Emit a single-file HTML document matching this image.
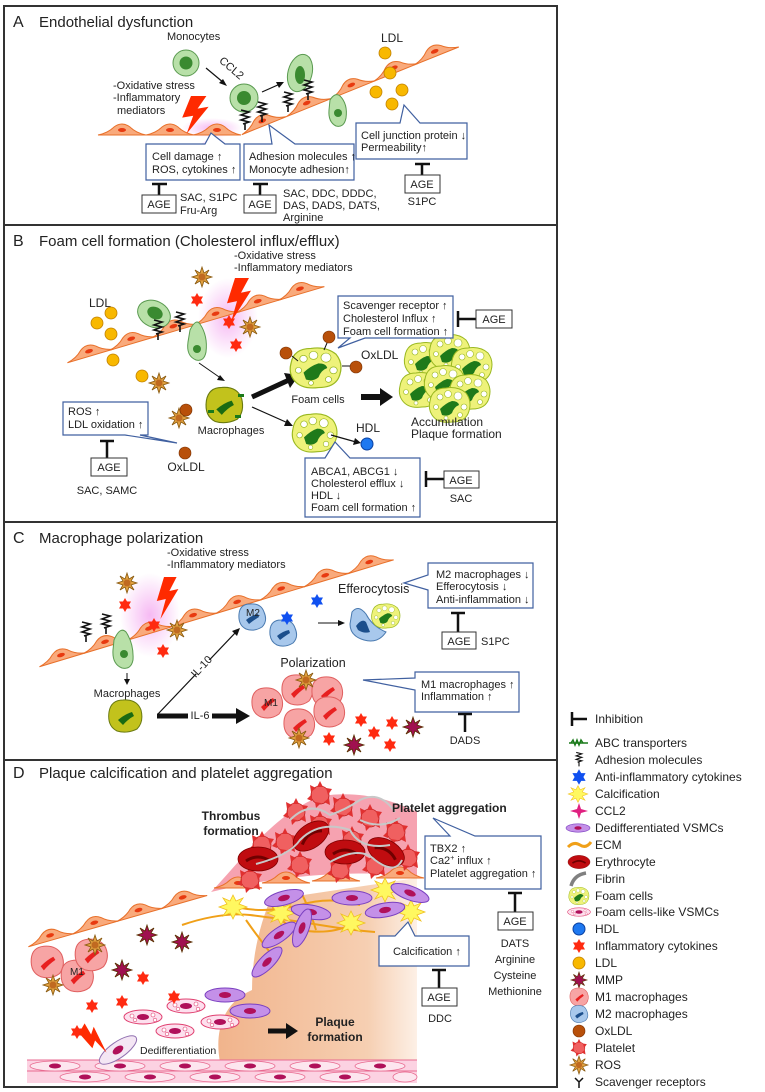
<!DOCTYPE html>
<html><head><meta charset="utf-8"><style>
html,body{margin:0;padding:0;background:#fff}
svg{display:block}
text{font-family:"Liberation Sans",Arial,sans-serif;fill:#222}
.t{font-size:15px}
.s{font-size:11px}
.l{font-size:12px}
.b{font-weight:bold;font-size:12px}
</style></head><body>
<svg width="765" height="1092" viewBox="0 0 765 1092" xmlns="http://www.w3.org/2000/svg">
<defs>
<g id="endo"><path d="M-24,5 Q-14,3 -8,-3 Q0,-9 8,-3 Q14,3 24,5 Z" fill="#f9aa7c" stroke="#e8702a" stroke-width="1"/><ellipse cx="0" cy="0" rx="4" ry="2" fill="#e83a10"/></g>
<g id="ros"><polygon points="0,-10 2,-4 7,-7 4,-2 10,0 4,2 7,7 2,4 0,10 -2,4 -7,7 -4,2 -10,0 -4,-2 -7,-7 -2,-4" fill="#e0a040" stroke="#8a5a10" stroke-width="0.8"/><circle r="3.5" fill="#c06a20"/></g>
<g id="mmp"><polygon points="0,-10 2,-4 7,-7 4,-2 10,0 4,2 7,7 2,4 0,10 -2,4 -7,7 -4,2 -10,0 -4,-2 -7,-7 -2,-4" fill="#a01050" stroke="#5a3000" stroke-width="0.8"/></g>
<polygon id="rstar" points="0,-7 2,-3.5 6,-3.5 4,0 6,3.5 2,3.5 0,7 -2,3.5 -6,3.5 -4,0 -6,-3.5 -2,-3.5" fill="#ff2a10"/>
<polygon id="bstar" points="0,-7 2,-3.5 6,-3.5 4,0 6,3.5 2,3.5 0,7 -2,3.5 -6,3.5 -4,0 -6,-3.5 -2,-3.5" fill="#1050f0"/>
<circle id="ldl" r="6" fill="#f8b800" stroke="#c08000" stroke-width="0.8"/>
<circle id="ox" r="6" fill="#b8500a" stroke="#7a3000" stroke-width="0.6"/>
<polygon id="bolt" points="10,0 24,0 16,14 26,12 6,42 12,22 2,24" fill="#ff2a00"/>
<path id="adh" d="M-4,-8 L4,-6 L-4,-3 L4,-1 L-4,2 L4,4 L-2,6 M0,6 V12" fill="none" stroke="#111" stroke-width="1.6"/>
<g id="foam"><path d="M-20,-4 Q-18,-17 -4,-17 Q8,-19 16,-12 Q22,-4 19,6 Q16,17 2,17 Q-12,19 -18,10 Q-22,4 -20,-4Z" fill="#eef27a" stroke="#9ab820" stroke-width="1"/><path d="M-10,4 Q-4,-2 2,-4 Q8,-4 9,0 Q4,2 2,8 Q-2,12 -8,10Z" fill="#1f7a1a"/><circle cx="-10" cy="-8" r="3" fill="#fff" stroke="#9ab820" stroke-width=".6"/><circle cx="-2" cy="-11" r="3.5" fill="#fff" stroke="#9ab820" stroke-width=".6"/><circle cx="8" cy="-9" r="4" fill="#fff" stroke="#9ab820" stroke-width=".6"/><circle cx="14" cy="2" r="3" fill="#fff" stroke="#9ab820" stroke-width=".6"/><circle cx="-14" cy="2" r="2.5" fill="#fff" stroke="#9ab820" stroke-width=".6"/><circle cx="10" cy="10" r="2.5" fill="#fff" stroke="#9ab820" stroke-width=".6"/><circle cx="-4" cy="13" r="2" fill="#fff" stroke="#9ab820" stroke-width=".6"/></g>
<g id="m1"><path d="M-15,-3 Q-14,-14 -3,-15 Q9,-16 14,-7 Q18,3 12,11 Q4,17 -6,14 Q-16,10 -15,-3Z" fill="#f7a4a4" stroke="#e06060" stroke-width="1"/><path d="M-6,4 Q0,-2 6,-5 L8,-2 Q2,2 -3,8Z" fill="#e82020"/></g>
<g id="m2"><path d="M-13,-3 Q-12,-13 -2,-13 Q9,-14 12,-5 Q16,4 10,10 Q2,15 -6,12 Q-14,8 -13,-3Z" fill="#a8c8ec" stroke="#4a7ab0" stroke-width="1"/><path d="M-6,3 Q0,-2 6,-3 L7,0 Q2,3 -3,7Z" fill="#1c4f8c"/></g>
<g id="mac"><path d="M-16,-4 Q-14,-16 -2,-16 Q12,-17 16,-6 Q19,6 12,13 Q2,18 -8,15 Q-18,10 -16,-4Z" fill="#c2c21c" stroke="#6a7a10" stroke-width="1"/><path d="M-7,4 Q0,-2 7,-4 L9,0 Q3,3 -2,9Z" fill="#1a6a12"/></g>
<g id="plt"><circle r="9" fill="#f06060" stroke="#c02020" stroke-width=".8"/><polygon points="0,-14 3,-8 -3,-8" fill="#e03030"/><polygon points="12,-6 8,0 6,-7" fill="#e03030"/><polygon points="10,10 4,7 9,3" fill="#e03030"/><polygon points="-4,13 -5,7 1,8" fill="#e03030"/><polygon points="-13,4 -8,-1 -8,6" fill="#e03030"/><polygon points="-10,-10 -4,-7 -9,-3" fill="#e03030"/></g>
<g id="vsmc"><ellipse rx="20" ry="7" fill="#c490e8" stroke="#7a40c0" stroke-width="1"/><ellipse rx="6" ry="3" fill="#b0105a"/></g>
<g id="fvsmc"><ellipse rx="19" ry="7" fill="#fde0ee" stroke="#e04070" stroke-width="1"/><ellipse rx="6" ry="3" fill="#b0105a"/><circle cx="-11" cy="-1" r="2" fill="#fff" stroke="#e04070" stroke-width=".6"/><circle cx="10" cy="-2" r="2" fill="#fff" stroke="#e04070" stroke-width=".6"/><circle cx="12" cy="3" r="1.8" fill="#fff" stroke="#e04070" stroke-width=".6"/><circle cx="-8" cy="3" r="1.8" fill="#fff" stroke="#e04070" stroke-width=".6"/></g>
<polygon id="calc" points="0,-12 3,-6 10,-9 6,-3 14,0 6,3 10,9 3,6 0,12 -3,6 -10,9 -6,3 -14,0 -6,-3 -10,-9 -3,-6" fill="#fff860" stroke="#f0c020" stroke-width=".8"/>
<g id="ery"><ellipse rx="20" ry="12" fill="#c00c10" stroke="#800000" stroke-width=".8"/><path d="M-12,2 Q0,-6 12,2" stroke="#700000" stroke-width="3" fill="none"/></g>
<radialGradient id="glow"><stop offset="0" stop-color="#f4a8f0" stop-opacity=".8"/><stop offset="1" stop-color="#f4a8f0" stop-opacity="0"/></radialGradient>
<linearGradient id="peach" x1="0" x2="1"><stop offset="0" stop-color="#f1b48c"/><stop offset=".75" stop-color="#f6cfb2"/><stop offset="1" stop-color="#fdf0e6"/></linearGradient>
</defs>

<g fill="none" stroke="#333" stroke-width="2">
<rect x="4" y="6" width="553" height="219"/>
<rect x="4" y="225" width="553" height="297"/>
<rect x="4" y="522" width="553" height="238"/>
<rect x="4" y="760" width="553" height="327"/>
</g>

<!-- PANEL A -->
<text x="13" y="27" class="t" style="font-size:16px">A</text><text x="39" y="27" class="t">Endothelial dysfunction</text>
<text x="167" y="40" class="s">Monocytes</text>
<circle cx="186" cy="63" r="13" fill="#b8e0a8" stroke="#5a9a50"/><circle cx="186" cy="63" r="6.5" fill="#3a8a30"/>
<text x="214" y="66" class="s" transform="rotate(40 222 70)">CCL2</text>
<line x1="206" y1="68" x2="224" y2="83" stroke="#111" stroke-width="1.2"/><polygon points="227,86 219,83 223,79" fill="#111"/>
<ellipse cx="212" cy="128" rx="30" ry="10" fill="url(#glow)"/>
<path d="M220,130 L150,182 L240,182Z" fill="url(#glow)" opacity=".8"/>
<use href="#endo" x="122" y="130"/><use href="#endo" x="170" y="130"/><use href="#endo" x="217" y="130"/>
<g transform="translate(240,130) rotate(-22)"><use href="#endo" x="24"/><use href="#endo" x="72"/><use href="#endo" x="120"/><use href="#endo" x="166"/><use href="#endo" x="210"/></g>
<circle cx="244" cy="98" r="14" fill="#b8e0a8" stroke="#5a9a50"/><circle cx="244" cy="98" r="7" fill="#3a8a30"/>
<line x1="262" y1="92" x2="280" y2="84" stroke="#111" stroke-width="1.2"/><polygon points="284,82 276,82 279,88" fill="#111"/>
<ellipse cx="300" cy="73" rx="12" ry="19" fill="#b8e0a8" stroke="#5a9a50" transform="rotate(15 300 73)"/><ellipse cx="300" cy="75" rx="5" ry="9" fill="#3a8a30"/>
<use href="#adh" x="245" y="118"/><use href="#adh" x="262" y="110"/><use href="#adh" x="288" y="100"/><use href="#adh" x="308" y="88"/>
<path d="M330,100 Q335,92 340,96 Q348,104 346,118 Q344,128 336,126 Q328,122 329,110Z" fill="#b8e0a8" stroke="#5a9a50"/><circle cx="338" cy="113" r="4" fill="#3a8a30"/>
<use href="#bolt" transform="translate(180,96) scale(1.1,0.9)"/>
<text x="113" y="89" class="s">-Oxidative stress</text><text x="113" y="101" class="s">-Inflammatory</text><text x="117" y="114" class="s">mediators</text>
<text x="381" y="42" class="l">LDL</text>
<use href="#ldl" x="385" y="53"/><use href="#ldl" x="390" y="73"/><use href="#ldl" x="376" y="92"/><use href="#ldl" x="402" y="90"/><use href="#ldl" x="392" y="104"/>
<g fill="#fff" stroke="#4060a0" stroke-width="1.2">
<path d="M146,144 H205 L211,133 L225,144 H240 V180 H146 Z"/>
<path d="M244,144 H272 L269,125 L295,144 H354 V180 H244 Z"/>
<path d="M356,123 H400 L404,105 L420,123 H467 V159 H356 Z"/>
</g>
<text x="152" y="160" class="s">Cell damage ↑</text><text x="152" y="173" class="s">ROS, cytokines ↑</text>
<text x="249" y="160" class="s">Adhesion molecules ↑</text><text x="249" y="173" class="s">Monocyte adhesion↑</text>
<text x="361" y="139" class="s">Cell junction protein ↓</text><text x="361" y="151" class="s">Permeability↑</text>
<g stroke="#111" stroke-width="2.5"><path d="M152,184 H167 M159,184 V195"/><path d="M253,184 H268 M260,184 V195"/><path d="M415,164 H430 M422,164 V175"/></g>
<g fill="#fff" stroke="#333"><rect x="142" y="195" width="34" height="18"/><rect x="244" y="195" width="32" height="18"/><rect x="405" y="175" width="35" height="18"/></g>
<text x="159" y="208" class="s" text-anchor="middle">AGE</text><text x="260" y="208" class="s" text-anchor="middle">AGE</text><text x="422" y="188" class="s" text-anchor="middle">AGE</text>
<text x="180" y="201" class="s">SAC, S1PC</text><text x="180" y="214" class="s">Fru-Arg</text>
<text x="283" y="197" class="s">SAC, DDC, DDDC,</text><text x="283" y="209" class="s">DAS, DADS, DATS,</text><text x="283" y="221" class="s">Arginine</text>
<text x="422" y="205" class="s" text-anchor="middle">S1PC</text>

<!-- PANEL B -->
<text x="13" y="246" class="t" style="font-size:16px">B</text><text x="39" y="246" class="t">Foam cell formation (Cholesterol influx/efflux)</text>
<text x="234" y="259" class="s">-Oxidative stress</text><text x="234" y="271" class="s">-Inflammatory mediators</text>
<ellipse cx="228" cy="318" rx="30" ry="40" fill="url(#glow)"/>
<g transform="translate(66,358) rotate(-16.5)"><use href="#endo" x="24"/><use href="#endo" x="68"/><use href="#endo" x="112"/><use href="#endo" x="156"/><use href="#endo" x="200"/><use href="#endo" x="244"/></g>
<use href="#ros" x="202" y="277"/><use href="#rstar" x="197" y="300"/><use href="#rstar" x="229" y="322"/><use href="#rstar" x="236" y="345"/><use href="#ros" x="250" y="327"/>
<use href="#bolt" transform="translate(225,278) scale(1,1.05)"/>
<ellipse cx="154" cy="314" rx="17" ry="13" fill="#b8e0a8" stroke="#5a9a50" transform="rotate(25 154 314)"/><ellipse cx="155" cy="313" rx="8" ry="6" fill="#3a8a30" transform="rotate(25 155 313)"/>
<path d="M190,330 Q196,318 200,324 Q208,336 206,352 Q204,362 196,360 Q186,356 188,342Z" fill="#b8e0a8" stroke="#5a9a50"/><circle cx="197" cy="349" r="4" fill="#3a8a30"/>
<use href="#adh" x="158" y="328"/><use href="#adh" x="180" y="320"/>
<text x="89" y="307" class="l">LDL</text>
<use href="#ldl" x="111" y="313"/><use href="#ldl" x="97" y="323"/><use href="#ldl" x="111" y="334"/><use href="#ldl" x="113" y="360"/><use href="#ldl" x="142" y="376"/>
<use href="#ros" x="159" y="383"/>
<line x1="199" y1="363" x2="222" y2="379" stroke="#111" stroke-width="1"/><polygon points="225,381 217,380 220,375" fill="#111"/>
<use href="#mac" transform="translate(224,405) scale(1.1)"/>
<g fill="#1a7a1a"><rect x="238" y="394" width="6" height="3"/><rect x="208" y="410" width="6" height="3"/><rect x="235" y="415" width="6" height="3"/></g>
<text x="231" y="434" class="s" text-anchor="middle">Macrophages</text>
<use href="#ros" x="179" y="418"/><use href="#ox" x="186" y="410"/><use href="#ox" x="185" y="453"/>
<text x="186" y="471" class="l" text-anchor="middle">OxLDL</text>
<line x1="252" y1="397" x2="289" y2="380" stroke="#111" stroke-width="5"/><polygon points="299,375 284,373 290,388" fill="#111"/>
<line x1="252" y1="407" x2="288" y2="423" stroke="#111" stroke-width="1.2"/><polygon points="293,426 284,426 287,419" fill="#111"/>
<use href="#foam" transform="translate(316,368) scale(1.25,1.15)"/>
<use href="#ox" x="286" y="353"/><use href="#ox" x="329" y="337"/><use href="#ox" x="356" y="367"/>
<g stroke="#111" stroke-width="1"><line x1="292" y1="356" x2="298" y2="361"/><line x1="327" y1="343" x2="324" y2="350"/><line x1="350" y1="366" x2="342" y2="366"/></g>
<text x="361" y="359" class="l">OxLDL</text>
<text x="318" y="403" class="s" text-anchor="middle">Foam cells</text>
<line x1="361" y1="397" x2="382" y2="397" stroke="#111" stroke-width="6"/><polygon points="393,397 380,388 380,406" fill="#111"/>
<g><use href="#foam" x="425" y="360"/><use href="#foam" x="450" y="352"/><use href="#foam" x="472" y="365"/><use href="#foam" x="420" y="390"/><use href="#foam" x="445" y="383"/><use href="#foam" x="470" y="392"/><use href="#foam" x="450" y="405"/></g>
<text x="411" y="426" class="l">Accumulation</text><text x="411" y="438" class="l">Plaque formation</text>
<use href="#foam" transform="translate(315,433) scale(1.1)"/>
<line x1="331" y1="435" x2="356" y2="442" stroke="#111" stroke-width="1.2"/><polygon points="361,443 353,445 355,438" fill="#111"/>
<text x="356" y="432" class="l">HDL</text><circle cx="367" cy="444" r="6" fill="#1e78f0" stroke="#0a40a0"/>
<g fill="#fff" stroke="#4060a0" stroke-width="1.2">
<path d="M338,296 H453 V338 H365 L338,348 L350,338 H338 Z"/>
<path d="M63,402 H148 V435 H140 L177,443 L125,435 H63 Z"/>
<path d="M305,458 H325 L335,442 L350,458 H420 V517 H305 Z"/>
</g>
<text x="343" y="309" class="s">Scavenger receptor ↑</text><text x="343" y="322" class="s">Cholesterol Influx ↑</text><text x="343" y="335" class="s">Foam cell formation ↑</text>
<text x="68" y="415" class="s">ROS ↑</text><text x="68" y="428" class="s">LDL oxidation ↑</text>
<text x="311" y="475" class="s">ABCA1, ABCG1 ↓</text><text x="311" y="487" class="s">Cholesterol efflux ↓</text><text x="311" y="499" class="s">HDL ↓</text><text x="311" y="511" class="s">Foam cell formation ↑</text>
<g stroke="#111" stroke-width="2.5"><path d="M458,311 V327 M458,319 H476"/><path d="M100,441 H114 M107,441 V458"/><path d="M426,471 V487 M426,479 H444"/></g>
<g fill="#fff" stroke="#333"><rect x="476" y="310" width="36" height="18"/><rect x="91" y="458" width="36" height="18"/><rect x="444" y="471" width="35" height="17"/></g>
<text x="494" y="323" class="s" text-anchor="middle">AGE</text><text x="109" y="471" class="s" text-anchor="middle">AGE</text><text x="461" y="484" class="s" text-anchor="middle">AGE</text>
<text x="107" y="494" class="s" text-anchor="middle">SAC, SAMC</text>
<text x="461" y="502" class="s" text-anchor="middle">SAC</text>

<!-- PANEL C -->
<text x="13" y="543" class="t" style="font-size:16px">C</text><text x="39" y="543" class="t">Macrophage polarization</text>
<text x="167" y="556" class="s">-Oxidative stress</text><text x="167" y="568" class="s">-Inflammatory mediators</text>
<ellipse cx="150" cy="615" rx="30" ry="42" fill="url(#glow)"/>
<g transform="translate(38,662) rotate(-16.8)"><use href="#endo" x="24"/><use href="#endo" x="70"/><use href="#endo" x="116"/><use href="#endo" x="162"/><use href="#endo" x="208"/><use href="#endo" x="254"/><use href="#endo" x="300"/><use href="#endo" x="346"/></g>
<use href="#ros" x="127" y="583"/><use href="#rstar" x="125" y="605"/><use href="#rstar" x="154" y="625"/><use href="#ros" x="177" y="630"/><use href="#rstar" x="163" y="651"/>
<use href="#bolt" transform="translate(155,577) scale(0.9,1.0)"/>
<use href="#adh" x="86" y="630"/><use href="#adh" x="106" y="622"/>
<path d="M114,640 Q120,626 126,632 Q134,644 133,660 Q131,670 122,668 Q112,664 113,650Z" fill="#b8e0a8" stroke="#5a9a50"/><circle cx="124" cy="654" r="4" fill="#3a8a30"/>
<line x1="127" y1="673" x2="127" y2="681" stroke="#111"/><polygon points="127,685 124,679 130,679" fill="#111"/>
<text x="127" y="697" class="s" text-anchor="middle">Macrophages</text>
<use href="#mac" x="125" y="716"/>
<line x1="158" y1="714" x2="236" y2="632" stroke="#111" stroke-width="1.2"/><polygon points="240,628 232,631 237,636" fill="#111"/>
<rect x="196" y="660" width="14" height="14" fill="#fff"/><text x="202" y="670" class="s" transform="rotate(-47 202 667)" text-anchor="middle">IL-10</text>
<line x1="157" y1="716" x2="238" y2="716" stroke="#111" stroke-width="5"/><polygon points="250,716 236,708 236,724" fill="#111"/>
<rect x="188" y="708" width="24" height="14" fill="#fff"/><text x="200" y="719" class="s" text-anchor="middle">IL-6</text>
<use href="#m2" x="252" y="617"/><use href="#m2" x="283" y="633"/><text x="246" y="616" class="s" style="font-size:10px">M2</text>
<use href="#bstar" x="287" y="618"/><use href="#bstar" x="317" y="601"/>
<line x1="318" y1="623" x2="340" y2="623" stroke="#111"/><polygon points="345,623 338,620 338,626" fill="#111"/>
<text x="338" y="593" class="l" style="font-size:12.5px">Efferocytosis</text>
<path d="M352,612 Q358,604 366,614 Q372,626 386,632 Q378,644 364,640 Q350,636 350,624Z" fill="#a8c8ec" stroke="#4a7ab0"/><path d="M356,626 Q362,618 366,622 L370,632 Q364,634 358,630Z" fill="#1c4f8c"/>
<use href="#foam" transform="translate(386,616) scale(0.7)"/>
<g fill="#fff" stroke="#4060a0" stroke-width="1.2">
<path d="M428,563 H533 V608 H428 V590 L404,583 L428,575 Z"/>
<path d="M415,672 H519 V712 H415 V690 L363,680 L415,678 Z"/>
</g>
<text x="436" y="578" class="s">M2 macrophages ↓</text><text x="436" y="590" class="s">Efferocytosis ↓</text><text x="436" y="603" class="s">Anti-inflammation ↓</text>
<text x="421" y="688" class="s">M1 macrophages ↑</text><text x="421" y="700" class="s">Inflammation ↑</text>
<text x="313" y="667" class="l" text-anchor="middle" style="font-size:12.5px">Polarization</text>
<use href="#m1" x="267" y="703"/><use href="#m1" x="297" y="690"/><use href="#m1" x="327" y="692"/><use href="#m1" x="329" y="712"/><use href="#m1" x="299" y="724"/>
<text x="264" y="706" class="s" style="font-size:10px">M1</text>
<use href="#ros" x="306" y="680"/><use href="#ros" x="299" y="738"/>
<use href="#rstar" x="361" y="720"/><use href="#rstar" x="374" y="733"/><use href="#rstar" x="392" y="723"/><use href="#rstar" x="390" y="745"/><use href="#rstar" x="329" y="739"/>
<use href="#mmp" x="413" y="727"/><use href="#mmp" x="354" y="745"/>
<g stroke="#111" stroke-width="2.5"><path d="M451,613 H465 M458,613 V632"/><path d="M458,714 H472 M465,714 V732"/></g>
<rect x="442" y="632" width="34" height="17" fill="#fff" stroke="#333"/><text x="459" y="645" class="s" text-anchor="middle">AGE</text>
<text x="481" y="645" class="s">S1PC</text>
<text x="465" y="744" class="s" text-anchor="middle">DADS</text>

<!-- PANEL D -->
<text x="13" y="778" class="t" style="font-size:16px">D</text><text x="39" y="778" class="t">Plaque calcification and platelet aggregation</text>
<path d="M220,1062 C214,1030 224,1002 252,990 C252,960 258,930 270,900 L417,878 L417,1062 Z" fill="url(#peach)"/>
<path d="M211,892 C240,862 275,812 322,796 C360,790 392,800 417,812 L417,876 C380,872 300,870 211,892 Z" fill="#f6a2b0"/>
<g transform="translate(27,942) rotate(-16)"><use href="#endo" x="24"/><use href="#endo" x="70"/><use href="#endo" x="116"/><use href="#endo" x="162"/></g>
<use href="#endo" x="238" y="883"/><use href="#endo" x="286" y="878"/><use href="#endo" x="336" y="876"/><use href="#endo" x="400" y="873"/>
<use href="#plt" x="320" y="795"/><use href="#plt" x="296" y="812"/><use href="#plt" x="343" y="807"/><use href="#plt" x="370" y="818"/><use href="#plt" x="396" y="832"/><use href="#plt" x="285" y="842"/><use href="#plt" x="320" y="825"/><use href="#plt" x="352" y="840"/><use href="#plt" x="408" y="858"/><use href="#plt" x="300" y="865"/><use href="#plt" x="340" y="870"/><use href="#plt" x="375" y="866"/><use href="#plt" x="250" y="880"/><use href="#plt" x="262" y="845"/>
<use href="#ery" x="258" y="859"/><use href="#ery" transform="translate(311,836) rotate(-35)"/><use href="#ery" x="345" y="852"/><use href="#ery" transform="translate(386,852) rotate(30)"/>
<g fill="none" stroke="#c8c8c8" stroke-width="2"><path d="M256,864 Q290,855 300,840 Q320,820 350,830 Q360,850 390,845"/><path d="M290,820 Q310,800 330,815 Q345,810 360,800 Q380,790 395,812"/><path d="M330,862 Q360,845 375,860 Q395,875 402,860"/><path d="M360,820 Q380,830 400,818"/></g>
<text x="231" y="820" class="b" text-anchor="middle">Thrombus</text><text x="231" y="835" class="b" text-anchor="middle">formation</text>
<text x="392" y="812" class="b">Platelet aggregation</text>
<g fill="none" stroke="#f0a018" stroke-width="2"><path d="M182,925 Q220,912 250,915 Q290,920 320,925 Q350,930 375,932"/><path d="M230,905 Q260,915 300,905 Q330,896 360,905"/><path d="M246,920 Q260,940 276,960"/><path d="M300,890 Q310,910 316,930"/><path d="M272,905 Q280,925 300,930 Q330,935 350,925"/></g>
<use href="#calc" x="233" y="907"/><use href="#calc" x="281" y="913"/><use href="#calc" x="351" y="923"/><use href="#calc" x="385" y="890"/><use href="#calc" x="411" y="912"/>
<use href="#vsmc" transform="translate(284,898) rotate(-15)"/><use href="#vsmc" x="352" y="898"/><use href="#vsmc" transform="translate(311,912) rotate(10)"/><use href="#vsmc" transform="translate(385,910) rotate(-10)"/><use href="#vsmc" transform="translate(279,935) rotate(-35)"/><use href="#vsmc" transform="translate(267,962) rotate(-45)"/><use href="#vsmc" transform="translate(302,928) rotate(-70)"/><use href="#vsmc" transform="translate(410,893) rotate(20)"/><use href="#vsmc" x="225" y="995"/><use href="#vsmc" x="250" y="1011"/>
<use href="#fvsmc" x="186" y="1006"/><use href="#fvsmc" x="143" y="1017"/><use href="#fvsmc" x="220" y="1022"/><use href="#fvsmc" x="175" y="1031"/>
<use href="#m1" transform="translate(47,962) scale(1.05)"/><use href="#m1" transform="translate(77,976) scale(1.05)"/><use href="#m1" transform="translate(91,955) scale(1.05)"/>
<text x="70" y="975" class="s" style="font-size:10px">M1</text>
<use href="#ros" x="95" y="945"/><use href="#ros" x="53" y="985"/>
<use href="#mmp" x="147" y="935"/><use href="#mmp" x="182" y="942"/><use href="#mmp" x="122" y="970"/>
<use href="#rstar" x="143" y="978"/><use href="#rstar" x="92" y="1006"/><use href="#rstar" x="122" y="1002"/><use href="#rstar" x="174" y="997"/><use href="#rstar" x="77" y="1032"/>
<rect x="27" y="1060" width="390" height="23" fill="#fcd2e2"/>
<g stroke="#e86a90" stroke-width="1" fill="none"><line x1="27" y1="1060" x2="417" y2="1060"/><line x1="27" y1="1071" x2="417" y2="1071"/></g>
<g fill="#fde6ef" stroke="#e86a90" stroke-width=".8">
<ellipse cx="55" cy="1066" rx="25" ry="5"/><ellipse cx="120" cy="1066" rx="25" ry="5"/><ellipse cx="185" cy="1066" rx="25" ry="5"/><ellipse cx="250" cy="1066" rx="25" ry="5"/><ellipse cx="315" cy="1066" rx="25" ry="5"/><ellipse cx="380" cy="1066" rx="25" ry="5"/>
<ellipse cx="85" cy="1077" rx="25" ry="5"/><ellipse cx="150" cy="1077" rx="25" ry="5"/><ellipse cx="215" cy="1077" rx="25" ry="5"/><ellipse cx="280" cy="1077" rx="25" ry="5"/><ellipse cx="345" cy="1077" rx="25" ry="5"/><ellipse cx="405" cy="1077" rx="12" ry="5"/></g>
<g fill="#b0105a"><ellipse cx="55" cy="1066" rx="6" ry="2.5"/><ellipse cx="120" cy="1066" rx="6" ry="2.5"/><ellipse cx="185" cy="1066" rx="6" ry="2.5"/><ellipse cx="250" cy="1066" rx="6" ry="2.5"/><ellipse cx="315" cy="1066" rx="6" ry="2.5"/><ellipse cx="380" cy="1066" rx="6" ry="2.5"/><ellipse cx="85" cy="1077" rx="6" ry="2.5"/><ellipse cx="150" cy="1077" rx="6" ry="2.5"/><ellipse cx="215" cy="1077" rx="6" ry="2.5"/><ellipse cx="280" cy="1077" rx="6" ry="2.5"/><ellipse cx="345" cy="1077" rx="6" ry="2.5"/></g>
<g transform="translate(118,1050) rotate(-35)"><ellipse rx="22" ry="8" fill="#f4e6f4" stroke="#9070b0"/><ellipse rx="6" ry="3.5" fill="#b0105a"/></g>
<use href="#bolt" transform="translate(75,1040) rotate(-60) scale(0.8)"/>
<text x="140" y="1054" class="s" style="font-size:10.5px">Dedifferentiation</text>
<line x1="268" y1="1031" x2="288" y2="1031" stroke="#111" stroke-width="5"/><polygon points="298,1031 286,1023 286,1039" fill="#111"/>
<text x="335" y="1026" class="b" text-anchor="middle">Plaque</text><text x="335" y="1041" class="b" text-anchor="middle">formation</text>
<g fill="#fff" stroke="#4060a0" stroke-width="1.2">
<path d="M425,836 H450 L433,818 L475,836 H541 V889 H425 Z"/>
<path d="M379,936 H395 L408,922 L415,936 H469 V966 H379 Z"/>
</g>
<text x="430" y="852" class="s">TBX2 ↑</text><text x="430" y="864" class="s">Ca2<tspan dy="-4" style="font-size:7px">+</tspan><tspan dy="4"> influx ↑</tspan></text><text x="430" y="877" class="s">Platelet aggregation ↑</text>
<text x="393" y="955" class="s">Calcification ↑</text>
<g stroke="#111" stroke-width="2.5"><path d="M508,893 H522 M515,893 V912"/><path d="M432,970 H446 M439,970 V988"/></g>
<g fill="#fff" stroke="#333"><rect x="498" y="912" width="35" height="18"/><rect x="422" y="988" width="35" height="18"/></g>
<text x="515" y="925" class="s" text-anchor="middle">AGE</text><text x="439" y="1001" class="s" text-anchor="middle">AGE</text>
<text x="515" y="947" class="s" text-anchor="middle">DATS</text><text x="515" y="963" class="s" text-anchor="middle">Arginine</text><text x="515" y="979" class="s" text-anchor="middle">Cysteine</text><text x="515" y="995" class="s" text-anchor="middle">Methionine</text>
<text x="440" y="1022" class="s" text-anchor="middle">DDC</text>

<!-- LEGEND -->
<path d="M572,712 V726 M572,719 H587" stroke="#111" stroke-width="2.5"/>
<text x="595" y="723" class="l">Inhibition</text>
<text x="595" y="747" class="l">ABC transporters</text>
<text x="595" y="764" class="l">Adhesion molecules</text>
<text x="595" y="781" class="l">Anti-inflammatory cytokines</text>
<text x="595" y="798" class="l">Calcification</text>
<text x="595" y="815" class="l">CCL2</text>
<text x="595" y="832" class="l">Dedifferentiated VSMCs</text>
<text x="595" y="849" class="l">ECM</text>
<text x="595" y="866" class="l">Erythrocyte</text>
<text x="595" y="883" class="l">Fibrin</text>
<text x="595" y="900" class="l">Foam cells</text>
<text x="595" y="916" class="l">Foam cells-like VSMCs</text>
<text x="595" y="933" class="l">HDL</text>
<text x="595" y="950" class="l">Inflammatory cytokines</text>
<text x="595" y="967" class="l">LDL</text>
<text x="595" y="984" class="l">MMP</text>
<text x="595" y="1001" class="l">M1 macrophages</text>
<text x="595" y="1018" class="l">M2 macrophages</text>
<text x="595" y="1035" class="l">OxLDL</text>
<text x="595" y="1052" class="l">Platelet</text>
<text x="595" y="1069" class="l">ROS</text>
<text x="595" y="1086" class="l">Scavenger receptors</text>
<path d="M571,743 l2,-3 l2,5 l2,-5 l2,5 l2,-5 l2,3 M569,743 H588" stroke="#1a7a1a" stroke-width="1.5" fill="none"/>
<use href="#adh" transform="translate(579,758) scale(0.7)"/>
<use href="#bstar" transform="translate(579,777) scale(1.1)"/>
<use href="#calc" transform="translate(578,794) scale(0.7)"/>
<path d="M579,803 L581,809 L588,811 L581,813 L579,819 L577,813 L570,811 L577,809Z" fill="#e02080"/>
<g transform="translate(578,828) scale(0.6)"><ellipse rx="20" ry="7" fill="#c490e8" stroke="#7a40c0"/><ellipse rx="6" ry="3" fill="#b0105a"/></g>
<path d="M568,847 Q574,841 580,845 Q586,849 591,842" stroke="#f0a018" stroke-width="3" fill="none"/>
<use href="#ery" transform="translate(579,862) scale(0.55)"/>
<path d="M571,886 Q574,875 586,873" stroke="#808080" stroke-width="3.5" fill="none"/>
<use href="#foam" transform="translate(579,896) scale(0.5)"/>
<use href="#fvsmc" transform="translate(579,912) scale(0.6)"/>
<circle cx="579" cy="929" r="6" fill="#1e78f0" stroke="#0a40a0"/>
<use href="#rstar" x="579" y="946"/>
<use href="#ldl" x="579" y="963"/>
<use href="#mmp" transform="translate(579,980) scale(0.8)"/>
<use href="#m1" transform="translate(579,997) scale(0.6)"/>
<use href="#m2" transform="translate(579,1014) scale(0.65)"/>
<use href="#ox" x="579" y="1031"/>
<use href="#plt" transform="translate(579,1048) scale(0.65)"/>
<use href="#ros" transform="translate(579,1065) scale(0.9)"/>
<path d="M575,1078 L579,1082 L583,1078 M579,1082 V1088" stroke="#111" stroke-width="1.5" fill="none"/>
</svg>
</body></html>
